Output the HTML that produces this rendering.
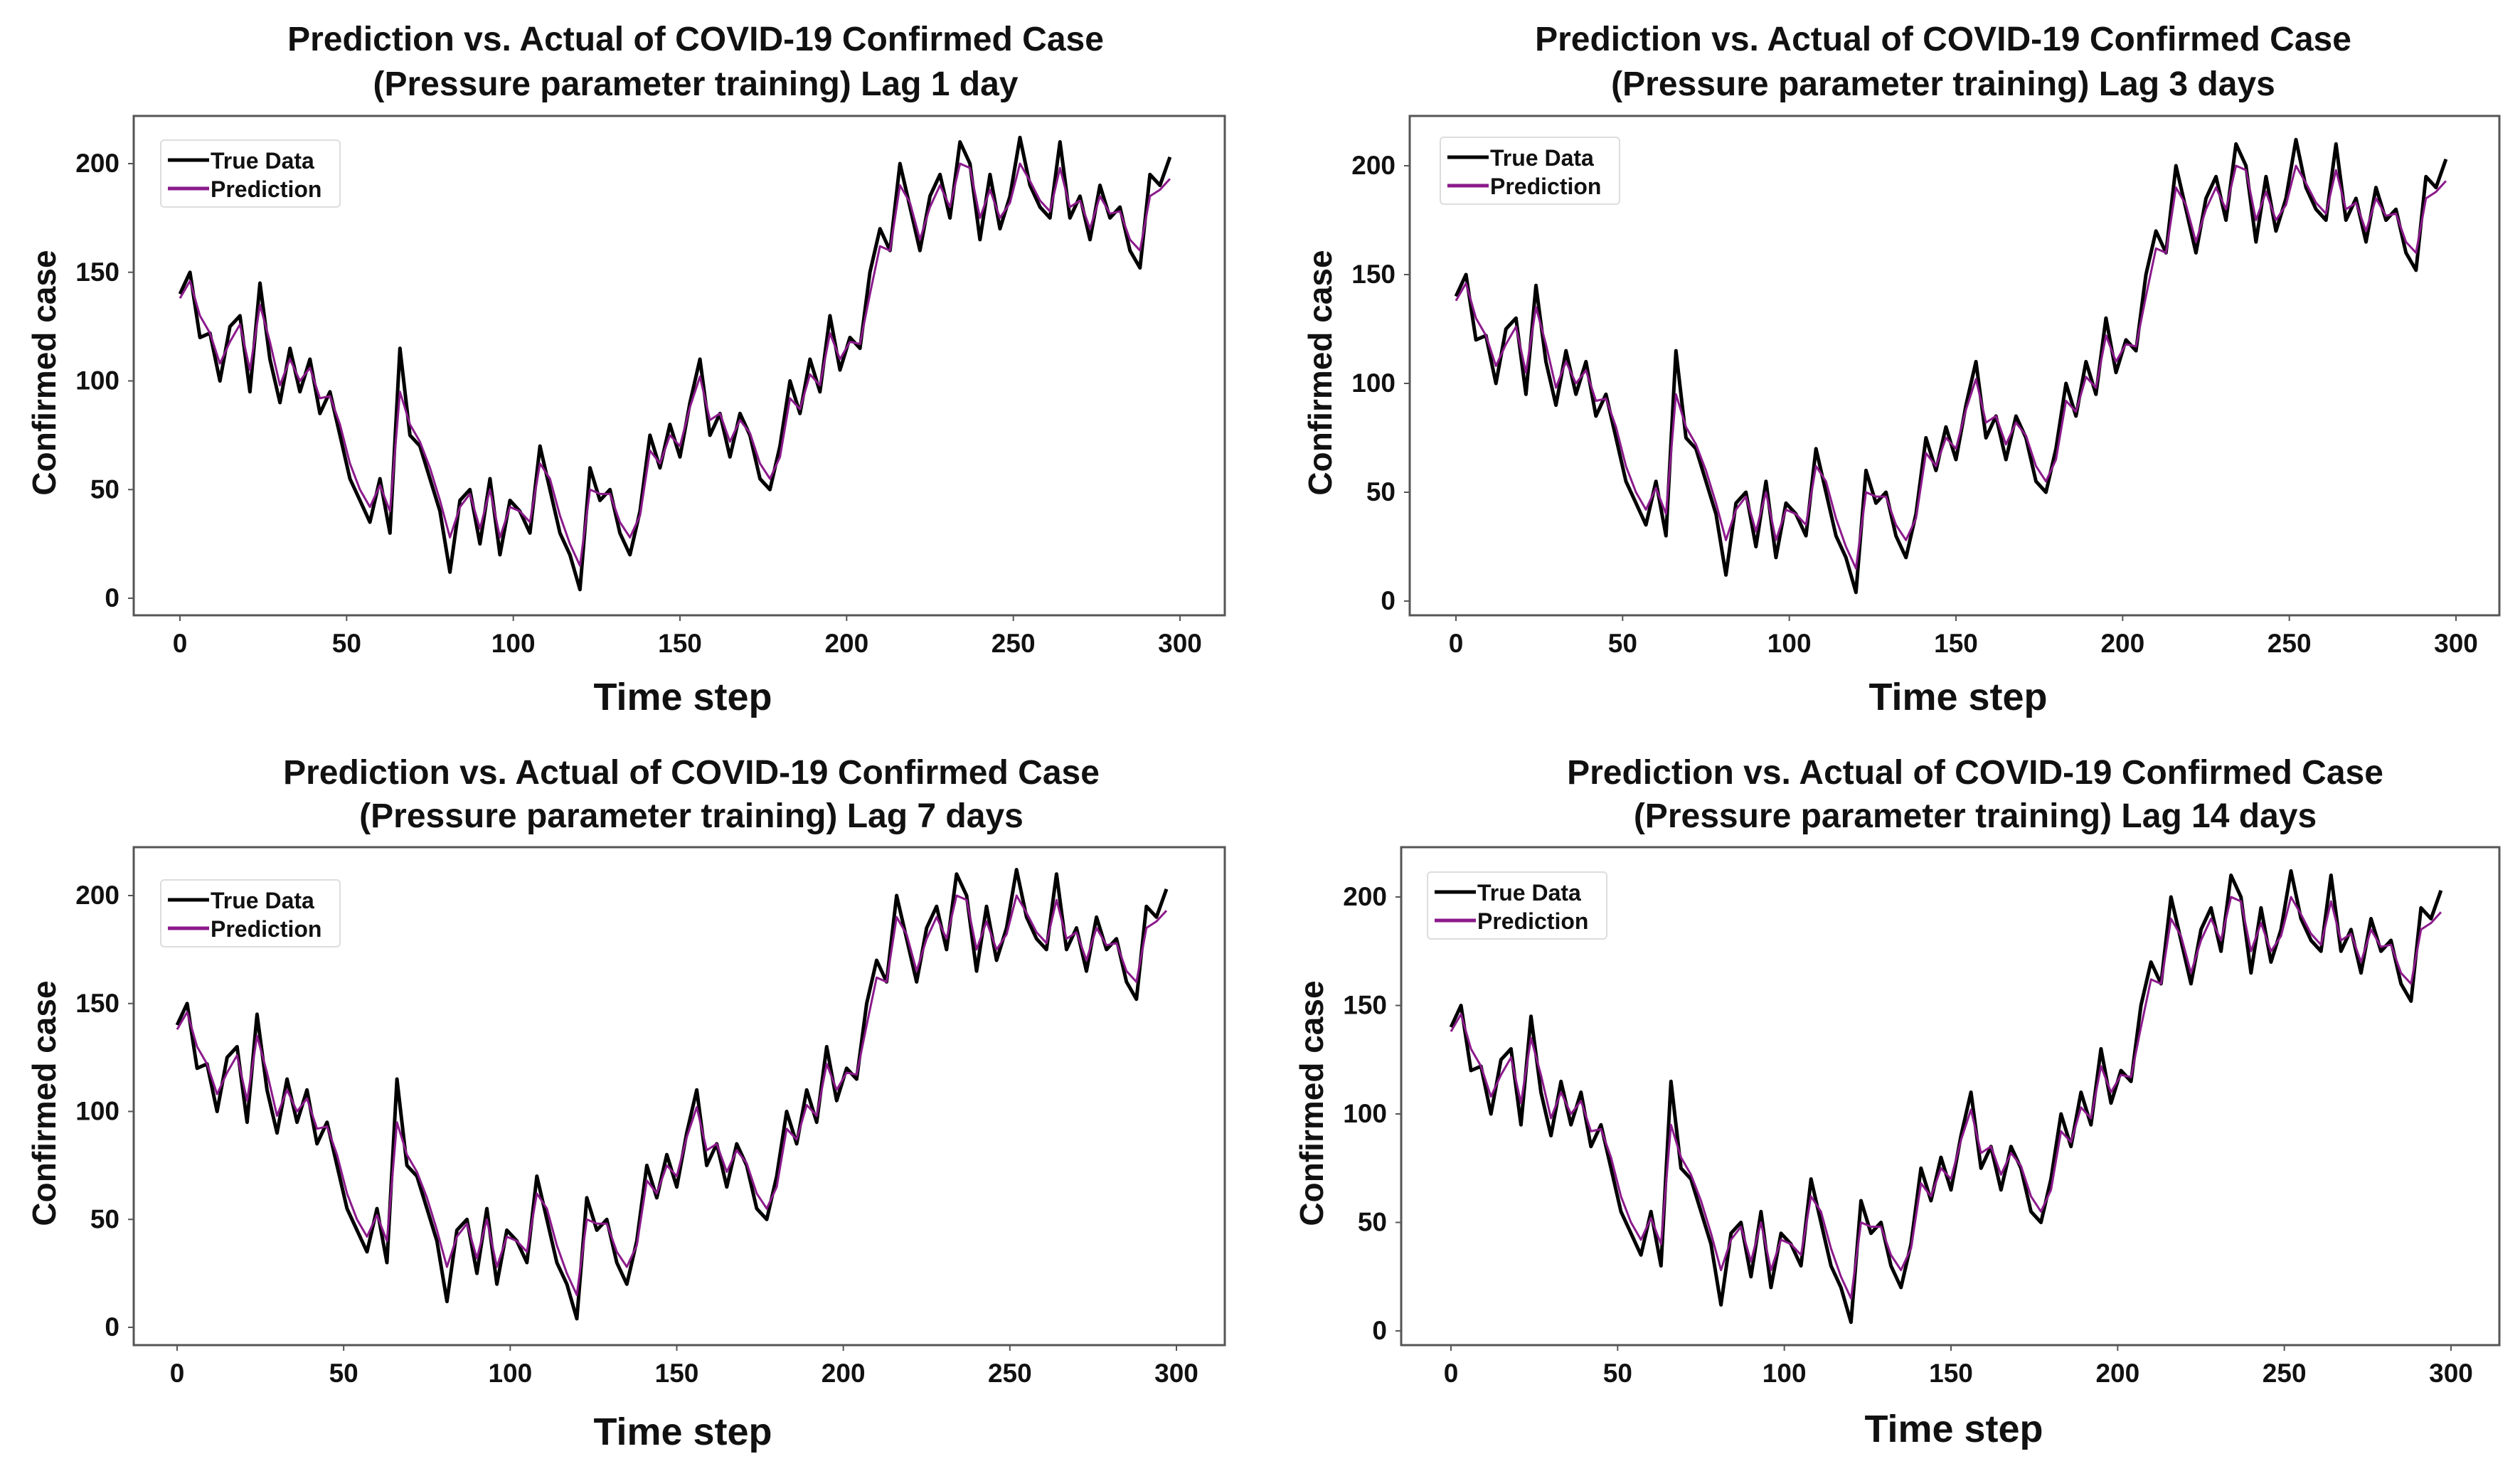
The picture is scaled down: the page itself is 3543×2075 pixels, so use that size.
<!DOCTYPE html>
<html><head><meta charset="utf-8"><style>
html,body{margin:0;padding:0;background:#fff;}
svg{display:block;font-family:"Liberation Sans",Arial,sans-serif;font-weight:bold;}
</style></head><body>
<svg id="fig" width="3543" height="2075" viewBox="0 0 3543 2075" xmlns="http://www.w3.org/2000/svg"></svg>
<script>
const steps = [0,3,6,9,12,15,18,21,24,27,30,33,36,39,42,45,48,51,54,57,60,63,66,69,72,75,78,81,84,87,90,93,96,99,102,105,108,111,114,117,120,123,126,129,132,135,138,141,144,147,150,153,156,159,162,165,168,171,174,177,180,183,186,189,192,195,198,201,204,207,210,213,216,219,222,225,228,231,234,237,240,243,246,249,252,255,258,261,264,267,270,273,276,279,282,285,288,291,294,297];
const trueData = [140,150,120,122,100,125,130,95,145,110,90,115,95,110,85,95,75,55,45,35,55,30,115,75,70,55,40,12,45,50,25,55,20,45,40,30,70,50,30,20,4,60,45,50,30,20,40,75,60,80,65,90,110,75,85,65,85,75,55,50,70,100,85,110,95,130,105,120,115,150,170,160,200,180,160,185,195,175,210,200,165,195,170,185,212,190,180,175,210,175,185,165,190,175,180,160,152,195,190,203];
const prediction = [138,146,130,122,108,118,126,105,135,118,98,110,100,106,92,93,80,62,50,42,52,40,95,80,72,60,45,28,42,48,32,50,28,42,40,35,62,55,38,25,15,50,48,48,35,28,38,68,62,75,70,88,102,82,85,72,82,76,62,55,65,92,87,103,98,122,110,118,117,140,162,160,190,182,165,180,190,180,200,198,175,188,175,182,200,192,183,178,198,180,183,170,185,177,178,165,160,185,188,193];
const xTicks = [0,50,100,150,200,250,300];
const yTicks = [0,50,100,150,200];

const panels = [
 {id:'lag-1', lag:'Lag 1 day', fx0:188,fy0:163,fx1:1722,fy1:865, x0:253,x300:1659, y0:841,y200:230, tcx:978, t1:54,t2:117, lab:978, lx:226,ly:197},
 {id:'lag-3', lag:'Lag 3 days', fx0:1982,fy0:163,fx1:3514,fy1:865, x0:2047,x300:3453, y0:845,y200:233, tcx:2732, t1:54,t2:117, lab:978, lx:2025,ly:193},
 {id:'lag-7', lag:'Lag 7 days', fx0:188,fy0:1191,fx1:1722,fy1:1891, x0:249,x300:1654, y0:1866,y200:1259, tcx:972, t1:1085,t2:1146, lab:2011, lx:226,ly:1237},
 {id:'lag-14', lag:'Lag 14 days', fx0:1970,fy0:1191,fx1:3514,fy1:1891, x0:2040,x300:3446, y0:1871,y200:1261, tcx:2777, t1:1085,t2:1146, lab:2007, lx:2007,ly:1226}
];
const NS='http://www.w3.org/2000/svg';
const fig=document.getElementById('fig');
function mk(tag,attrs,parent,text){const e=document.createElementNS(NS,tag);for(const k in attrs)e.setAttribute(k,attrs[k]);if(text!==undefined)e.textContent=text;parent.appendChild(e);return e;}
panels.forEach(p=>{
  const g=mk('g',{},fig);
  
  
  const xs=v=>p.x0+(p.x300-p.x0)*v/300;
  const ys=v=>p.y0+(p.y200-p.y0)*v/200;
  const t1=mk('text',{x:p.tcx,y:p.t1+17,'text-anchor':'middle','font-size':48,fill:'#111'},g,'Prediction vs. Actual of COVID-19 Confirmed Case');
  
  
  const t2=mk('text',{x:p.tcx,y:p.t2+17,'text-anchor':'middle','font-size':48,fill:'#111'},g,'(Pressure parameter training) '+p.lag);
  
  
  const fr=mk('rect',{x:p.fx0,y:p.fy0,width:p.fx1-p.fx0,height:p.fy1-p.fy0,fill:'none',stroke:'#555','stroke-width':3},g);
  
  
  xTicks.forEach(t=>{
    mk('line',{x1:xs(t),x2:xs(t),y1:p.fy1,y2:p.fy1+8,stroke:'#555','stroke-width':2},g);
    const tl=mk('text',{x:xs(t),y:p.fy1+52,'text-anchor':'middle','font-size':37,fill:'#111'},g,String(t));
    
    
  });
  yTicks.forEach(t=>{
    mk('line',{x1:p.fx0-8,x2:p.fx0,y1:ys(t),y2:ys(t),stroke:'#555','stroke-width':2},g);
    const tl=mk('text',{x:p.fx0-20,y:ys(t)+12,'text-anchor':'end','font-size':37,fill:'#111'},g,String(t));
    
    
  });
  const xl=mk('text',{x:(p.fx0+p.fx1)/2+5,y:p.lab+20,'text-anchor':'middle','font-size':54,fill:'#111'},g,'Time step');
  
  
  const ycx=p.fx0-110, ycy=(p.fy0+p.fy1)/2+10;
  const yl=mk('text',{x:ycx,y:ycy,'text-anchor':'middle','font-size':46,fill:'#111',transform:`rotate(-90 ${ycx} ${ycy})`},g,'Confirmed case');
  
  
  const tp=trueData.map((v,i)=>xs(steps[i]).toFixed(1)+','+ys(v).toFixed(1)).join(' ');
  const pp=prediction.map((v,i)=>xs(steps[i]).toFixed(1)+','+ys(v).toFixed(1)).join(' ');
  const l1=mk('polyline',{points:tp,fill:'none',stroke:'#000','stroke-width':5,'stroke-linejoin':'round'},g);
  
  
  const l2=mk('polyline',{points:pp,fill:'none',stroke:'#8b1a8b','stroke-width':3,'stroke-linejoin':'round'},g);
  
  
  const lg=mk('g',{},g);
  
  
  mk('rect',{x:p.lx,y:p.ly,width:252,height:94,rx:5,fill:'#fff',stroke:'#ddd','stroke-width':2},lg);
  mk('line',{x1:p.lx+10,x2:p.lx+68,y1:p.ly+28,y2:p.ly+28,stroke:'#000','stroke-width':5},lg);
  mk('line',{x1:p.lx+10,x2:p.lx+68,y1:p.ly+68,y2:p.ly+68,stroke:'#8b1a8b','stroke-width':5},lg);
  const e1=mk('text',{x:p.lx+70,y:p.ly+40,'font-size':32,fill:'#111'},lg,'True Data');
  
  
  const e2=mk('text',{x:p.lx+70,y:p.ly+80,'font-size':32,fill:'#111'},lg,'Prediction');
  
  
});
</script>
</body></html>
